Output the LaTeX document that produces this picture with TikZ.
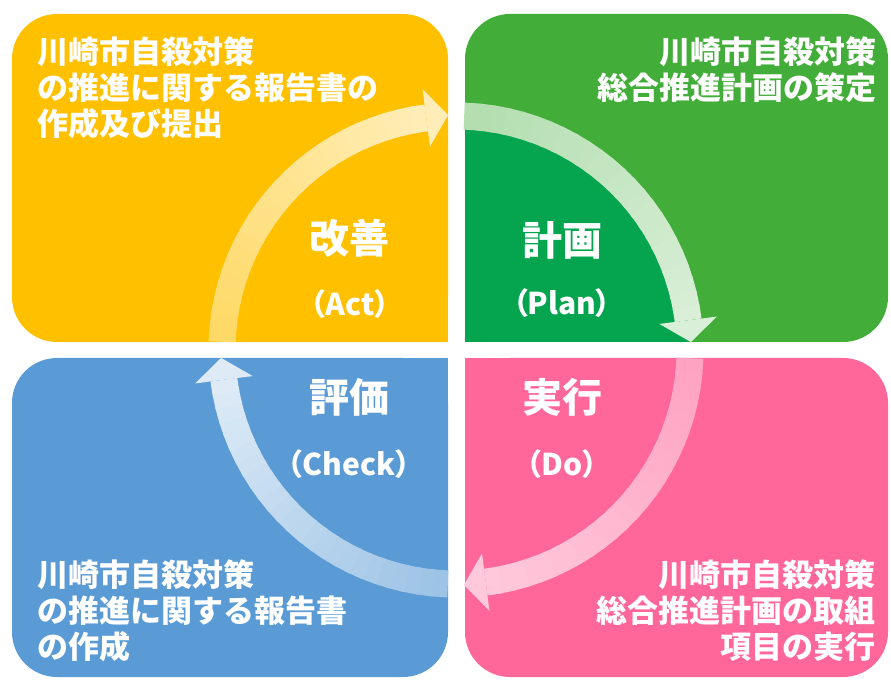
\documentclass[tikz,border=0pt]{standalone}
\usepackage{fontspec}
\setmainfont{Noto Sans CJK JP}
\newfontfamily\jplabel{Noto Sans CJK JP}[RawFeature=+palt]
\usetikzlibrary{arrows.meta,positioning,calc}

\definecolor{actcol}{HTML}{FFC000}
\definecolor{plancol}{HTML}{42AD39}
\definecolor{plandark}{HTML}{04A54E}
\definecolor{docol}{HTML}{FF6699}
\definecolor{checkcol}{HTML}{5B9BD5}

\tikzset{
  memo/.style={text=white, inner sep=0pt, font=\bfseries\fontsize{31}{36}\selectfont},
  stage/.style={text=white, inner sep=0pt, font=\jplabel\bfseries\fontsize{40}{44}\selectfont},
  stagesub/.style={text=white, inner sep=0pt, font=\jplabel\bfseries\fontsize{30}{34}\selectfont},
}

\begin{document}
\begin{tikzpicture}[x=1pt,y=1pt]
    \useasboundingbox (0,0) rectangle (891,680);
    \fill[white] (0,0) rectangle (891,680);
    \coordinate (cyc) at (456,330);

    % four boxes, square corner towards the middle
    \fill[actcol, rounded corners=45pt] (12,338) rectangle (448,666);
    \fill[actcol] (300,338) rectangle (448,480);
    \fill[plancol, rounded corners=45pt] (465,338) rectangle (888,666);
    \fill[plancol] (465,338) rectangle (600,480);
    \fill[checkcol, rounded corners=45pt] (12,3) rectangle (448,322);
    \fill[checkcol] (300,180) rectangle (448,322);
    \fill[docol, rounded corners=45pt] (465,3) rectangle (888,322);
    \fill[docol] (465,180) rectangle (600,322);

    \begin{scope}
        \clip (465,338) rectangle (888,666);
        \fill[plandark] (cyc) circle (234pt);
    \end{scope}

    % the cycle: start angle / angle of the head / colour / fade
    \foreach \a/\c/\col/\s/\e in {178/97.3/actcol/40/72, 88/7.3/plancol/60/80,
                                   -2/-82.7/docol/40/65, -92/-172.7/checkcol/40/80}{
        \foreach \i in {0,...,23}{
            \pgfmathsetmacro\p{\a+(\c-\a)*\i/24}
            \pgfmathsetmacro\q{\a+(\c-\a)*min(\i+1.3,24)/24}
            \pgfmathtruncatemacro\w{\s+(\e-\s)*\i/23}
            \draw[line width=27pt, white!\w!\col] (cyc) ++(\p:234pt)
                arc[start angle=\p, end angle=\q, radius=234pt];
        }
        \fill[white!\e!\col] ($(cyc)+(\c:263pt)$)
            -- ($(cyc)+(\c:234pt)+(\c-90:22pt)$)
            -- ($(cyc)+(\c:205pt)$) -- cycle;
    }

    \node[stage] (act) at (349,442) {改善};
    \node[stagesub] (actsub) at (350,376) {（Act）};
    \node[stage] (plan) at (562,440) {計画};
    \node[stagesub] (plansub) at (562,377) {（Plan）};
    \node[stage] (check) at (349,283) {評価};
    \node[stagesub] (checksub) at (349,216) {（Check）};
    \node[stage] (do) at (562,283) {実行};
    \node[stagesub] (dosub) at (562,216) {（Do）};

    \node[memo, anchor=north west, align=left] (actmemo) at (37,643)
        {川崎市自殺対策\\の推進に関する報告書の\\作成及び提出};
    \node[memo, anchor=north east, align=right] (planmemo) at (877,643)
        {川崎市自殺対策\\総合推進計画の策定};
    \node[memo, anchor=north west, align=left] (checkmemo) at (37,120)
        {川崎市自殺対策\\の推進に関する報告書\\の作成};
    \node[memo, anchor=north east, align=right] (domemo) at (876,120)
        {川崎市自殺対策\\総合推進計画の取組\\項目の実行};
\end{tikzpicture}
\end{document}
